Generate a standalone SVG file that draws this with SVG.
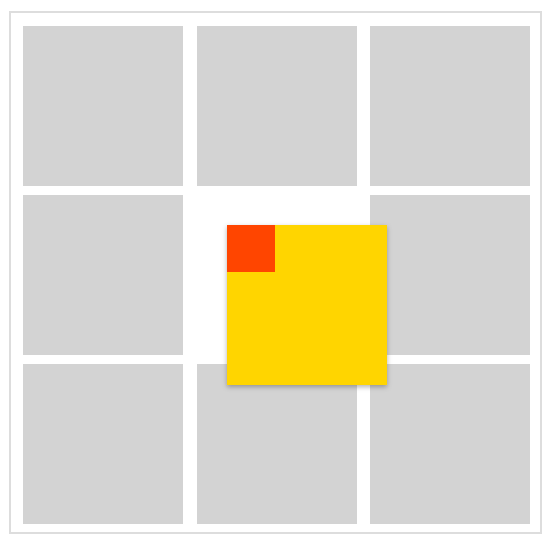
<svg xmlns="http://www.w3.org/2000/svg" width="556" height="543" viewBox="0 0 556 543">
  <style>
    .cell { fill: #d3d3d3; }
  </style>
  <defs>
    <filter id="shadow" x="-20%" y="-20%" width="140%" height="140%">
      <feDropShadow dx="0" dy="2" stdDeviation="2.5" flood-color="#000" flood-opacity="0.3"/>
    </filter>
  </defs>
  <rect x="0" y="0" width="556" height="543" fill="#ffffff"/>
  <rect id="frame" x="10" y="12" width="531" height="521" fill="none" stroke="#dddddd" stroke-width="2"/>
  <g id="grid">
    <rect id="c1" class="cell" x="23" y="26" width="160" height="160"/>
    <rect id="c2" class="cell" x="197" y="26" width="160" height="160"/>
    <rect id="c3" class="cell" x="370" y="26" width="160" height="160"/>
    <rect id="c4" class="cell" x="23" y="195" width="160" height="160"/>
    <rect id="c6" class="cell" x="370" y="195" width="160" height="160"/>
    <rect id="c7" class="cell" x="23" y="364" width="160" height="160"/>
    <rect id="c8" class="cell" x="197" y="364" width="160" height="160"/>
    <rect id="c9" class="cell" x="370" y="364" width="160" height="160"/>
  </g>
  <g id="moved">
    <rect x="227" y="225" width="160" height="160" fill="#ffd500" filter="url(#shadow)"/>
    <rect x="227" y="225" width="48" height="47" fill="#ff4500"/>
  </g>
</svg>
